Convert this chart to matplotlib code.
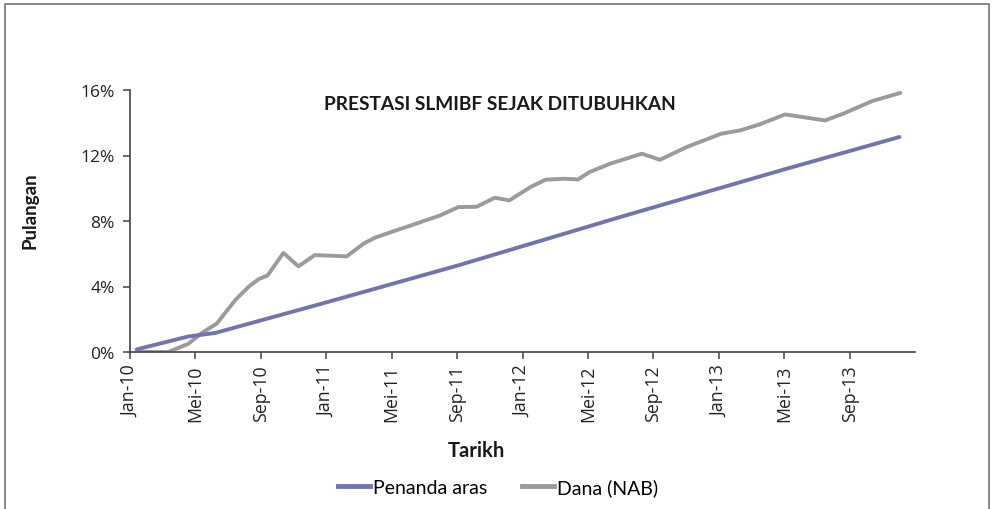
import matplotlib
matplotlib.use("Agg")
import matplotlib.pyplot as plt
from matplotlib.patches import Rectangle
from matplotlib.lines import Line2D

plt.rcParams['font.family'] = ['Open Sans', 'DejaVu Sans']

# x positions in months since Jan-2010
bench_x = [0.41, 3.57, 5.2, 11.93, 20, 30, 40, 47.05]
bench_y = [0.16, 0.95, 1.16, 3.01, 5.27, 8.25, 11.15, 13.13]

fund_x = [0.41, 2.34, 3.57, 4.39, 5.3, 6.42, 7.24, 7.85, 8.42, 9.38, 10.3, 11.3,
          13.25, 14.27, 14.98, 16.1, 17.5, 18.96, 20.08, 21.2, 22.3, 23.2, 24.5,
          25.4, 26.5, 27.4, 28.1, 29.36, 31.3, 32.4, 34.05, 36.15, 37.3, 38.5,
          40.06, 42.5, 43.6, 45.4, 47.1]
fund_y = [0.0, 0.0, 0.5, 1.16, 1.73, 3.15, 3.97, 4.44, 4.68, 6.05, 5.23, 5.92,
          5.84, 6.61, 6.98, 7.37, 7.84, 8.34, 8.85, 8.87, 9.42, 9.26, 10.08,
          10.52, 10.58, 10.54, 10.99, 11.5, 12.11, 11.74, 12.52, 13.33, 13.53, 13.9,
          14.51, 14.14, 14.55, 15.33, 15.82]

tick_pos = [0, 4, 8, 12, 16, 20, 24, 28, 32, 36, 40, 44]
tick_labels = ['Jan-10', 'Mei-10', 'Sep-10', 'Jan-11', 'Mei-11', 'Sep-11',
               'Jan-12', 'Mei-12', 'Sep-12', 'Jan-13', 'Mei-13', 'Sep-13']
y_ticks = [0, 4, 8, 12, 16]
y_labels = ['0%', '4%', '8%', '12%', '16%']

W, H = 994, 510
fig = plt.figure(figsize=(W / 100, H / 100), dpi=100)
ax = fig.add_axes([130 / W, 1 - 353 / H, (915 - 130) / W, (353 - 91) / H])

blue = '#7373b0'
grey = '#9b9b9b'
ax.plot(bench_x, bench_y, color=blue, lw=2.8, solid_capstyle='round', solid_joinstyle='round', zorder=3)
ax.plot(fund_x, fund_y, color=grey, lw=2.8, solid_capstyle='round', solid_joinstyle='round', zorder=2)

ax.set_xlim(0, 48)
ax.set_ylim(0, 16)
ax.set_xticks(tick_pos)
ax.set_xticklabels(tick_labels, rotation=90, fontsize=12.8, color='#222222')
ax.set_yticks(y_ticks)
ax.set_yticklabels(y_labels, fontsize=12.5, color='#222222')
ax.tick_params(axis='both', direction='out', length=5, width=1.1, color='#444444')
ax.tick_params(axis='y', pad=6)
ax.tick_params(axis='x', pad=4)

for s in ['top', 'right']:
    ax.spines[s].set_visible(False)
for s in ['left', 'bottom']:
    ax.spines[s].set_color('#444444')
    ax.spines[s].set_linewidth(1.2)

lato = ['Lato', 'DejaVu Sans']
fig.text(500 / W, 1 - 105 / H, 'PRESTASI SLMIBF SEJAK DITUBUHKAN', family=lato,
         ha='center', va='center', fontsize=13.8, fontweight='bold', color='#1a1a1a')

fig.text(476 / W, 1 - 451 / H, 'Tarikh', ha='center', va='center', fontsize=14.5,
         fontweight='bold', color='#1a1a1a', family=lato)
fig.text(30 / W, 1 - 211 / H, 'Pulangan', ha='center', va='center', rotation=90,
         fontsize=13.5, fontweight='bold', color='#1a1a1a', family=lato)

handles = [Line2D([], [], color=blue, lw=3.5), Line2D([], [], color=grey, lw=3.5)]
fig.legend(handles, ['Penanda aras', 'Dana (NAB)'], loc='center', ncol=2,
           bbox_to_anchor=(498 / W, 1 - 488 / H), frameon=False,
           prop={'family': lato, 'size': 14},
           handlelength=1.65, handletextpad=0.18, columnspacing=1.75)

fig.add_artist(Rectangle((5 / W, -0.05), (989 - 5) / W, 1.05 - 5 / H,
                         transform=fig.transFigure, fill=False,
                         edgecolor='#7f7f7f', lw=1.3))

fig.savefig('out.png', dpi=100)
